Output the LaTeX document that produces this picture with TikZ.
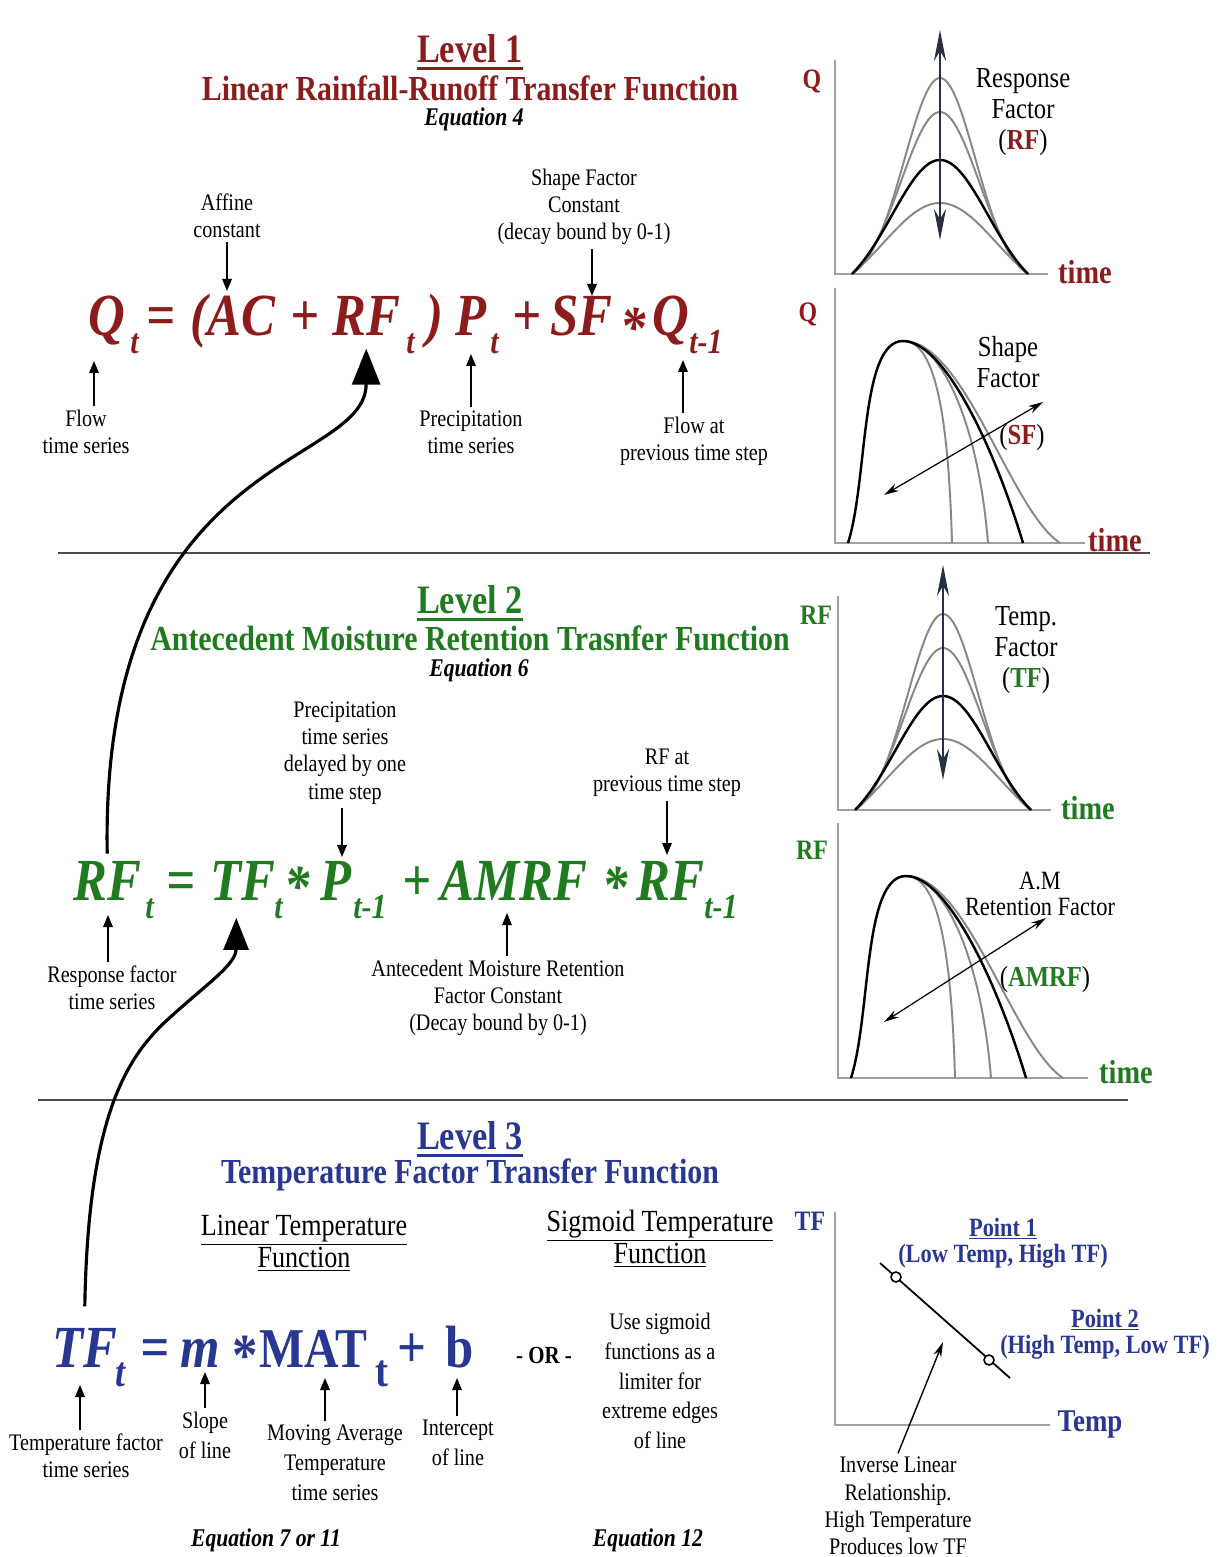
\documentclass[tikz,border=0pt]{standalone}
\usepackage{fontspec}
\setmainfont{Liberation Serif}[FakeStretch=0.85]
\usetikzlibrary{arrows.meta, positioning, calc}
\definecolor{DeepRed}{RGB}{140,28,28}
\definecolor{LeafGreen}{RGB}{32,122,32}
\definecolor{InkBlue}{RGB}{40,55,145}
\definecolor{SlateNavy}{RGB}{38,48,66}
\definecolor{CurveGray}{RGB}{135,135,135}
\definecolor{AxisGray}{RGB}{160,160,160}
\newcommand\lvlul[1]{\setbox0=\hbox{#1}\rlap{\rule[-4.5pt]{\wd0}{1.7pt}}\box0}

\begin{document}
\begin{tikzpicture}[x=0.02cm, y=-0.02cm,
    lvlhead/.style={font=\fontsize{23}{23}\selectfont\bfseries},
    lvltitle/.style={font=\fontsize{20}{20}\selectfont\bfseries},
    lvlno/.style={font=\fontsize{14.5}{14.5}\selectfont\bfseries\itshape},
    eq/.style={anchor=base west, inner sep=0pt, font=\fontsize{34}{34}\selectfont\bfseries\itshape},
    eqrm/.style={anchor=base west, inner sep=0pt, font=\fontsize{34}{34}\selectfont\bfseries},
    eqsub/.style={anchor=base west, inner sep=0pt, font=\fontsize{20}{20}\selectfont\bfseries\itshape},
    lbl/.style={align=center, inner sep=2pt, font=\fontsize{13.5}{15.5}\selectfont},
    lblwide/.style={lbl, font=\fontsize{13.5}{17}\selectfont},
    subhd/.style={align=center, font=\fontsize{17.5}{15}\selectfont},
    plotlbl/.style={align=center, font=\fontsize{16.5}{17.5}\selectfont},
    axlbl/.style={font=\fontsize{16}{16}\selectfont\bfseries},
    timelbl/.style={font=\fontsize{19}{19}\selectfont\bfseries},
    ptlbl/.style={align=center, text=InkBlue, font=\fontsize{15}{15}\selectfont\bfseries},
    ptr/.style={-{Triangle[length=0.24cm, width=0.19cm]}, line width=0.9pt},
    bigflow/.style={-{Triangle[length=0.72cm, width=0.56cm]}, line width=1.8pt},
    plotaxis/.style={AxisGray, line width=0.8pt},
    bell/.style={line width=1.1pt},
    updown/.style={SlateNavy, line width=1.4pt,
        {Stealth[length=0.62cm, width=0.24cm]}-{Stealth[length=0.62cm, width=0.24cm]}},
    twoway/.style={line width=0.7pt,
        {Stealth[length=0.3cm, width=0.16cm]}-{Stealth[length=0.3cm, width=0.16cm]}},
    sepline/.style={black!70, line width=0.6pt},
    ptdot/.style={circle, draw, fill=white, line width=0.9pt, minimum size=0.2cm, inner sep=0pt}
]
\useasboundingbox (0,0) rectangle (1220,1557);
\fill[white] (0,0) rectangle (1220,1557);

% nivel 1
\node[lvlhead, text=DeepRed] (lv1) at (470,52) {\lvlul{Level 1}};
\node[lvltitle, text=DeepRed] (tt1) at (470,88) {Linear Rainfall-Runoff Transfer Function};
\node[lvlno] (eqn4) at (474,119) {Equation 4};

\foreach \x/\t/\n in {88/Q/qa, 146/=/eqa, 190/(AC/ac, 290/+/pla, 332/RF/rf1,
    426/)/par, 455/P/pa, 512/+/plb, 550/SF/sf, 652/Q/qb}
    \node[eq, text=DeepRed] (\n) at (\x,336) {\t};
\foreach \x/\t/\n in {130/t/qas, 406/t/rf1s, 490/t/pas, 689/t-1/qbs}
    \node[eqsub, text=DeepRed] (\n) at (\x,354) {\t};
\node[eq, text=DeepRed] (asta) at (620,348) {*};

\node[lbl] (afflbl) at (227,216) {Affine\\constant};
\node[lbl] (sflbl) at (584,207) {Shape Factor\\Constant\\(decay bound by 0-1)};
\node[lbl] (flowlbl) at (86,432) {Flow\\time series};
\node[lbl] (preclbl) at (471,432) {Precipitation\\time series};
\node[lbl] (prevlbl) at (694,441) {Flow at\\previous time step};
\coordinate (tac) at (227,291);
\coordinate (tsf) at (592,296);
\coordinate (tq) at (94,361);
\coordinate (tp) at (471,354);
\coordinate (tqp) at (683,360);
\draw[ptr] (afflbl.south -| tac) -- (tac);
\draw[ptr] (sflbl.south -| tsf) -- (tsf);
\draw[ptr] (flowlbl.north -| tq) -- (tq);
\draw[ptr] (preclbl.north -| tp) -- (tp);
\draw[ptr] (prevlbl.north -| tqp) -- (tqp);

\draw[sepline] (58,553) -- (1150,553);

% nivel 2
\node[lvlhead, text=LeafGreen] (lv2) at (470,603) {\lvlul{Level 2}};
\node[lvltitle, text=LeafGreen] (tt2) at (470,638) {Antecedent Moisture Retention Trasnfer Function};
\node[lvlno] (eqn6) at (479,670) {Equation 6};

\foreach \x/\t/\n in {73/RF/rf2, 166/=/eqb, 210/TF/tf2, 320/P/pb, 402/+/plc,
    440/AMRF/amrf, 636/RF/rfb}
    \node[eq, text=LeafGreen] (\n) at (\x,900) {\t};
\foreach \x/\t/\n in {145/t/rf2s, 274/t/tf2s, 353/t-1/pbs, 704/t-1/rfbs}
    \node[eqsub, text=LeafGreen] (\n) at (\x,918) {\t};
\node[eq, text=LeafGreen] (astb) at (284,906) {*};
\node[eq, text=LeafGreen] (astc) at (602,906) {*};

\node[lbl] (dellbl) at (345,753) {Precipitation\\time series\\delayed by one\\time step};
\node[lbl] (rfplbl) at (667,773) {RF at\\previous time step};
\node[lbl] (resplbl) at (112,988) {Response factor\\time series};
\node[lbl] (amlbl) at (498,998) {Antecedent Moisture Retention\\Factor Constant\\(Decay bound by 0-1)};
\coordinate (tdel) at (342,857);
\coordinate (trfp) at (667,855);
\coordinate (tresp) at (108,915);
\coordinate (tam) at (507,913);
\draw[ptr] (dellbl.south -| tdel) -- (tdel);
\draw[ptr] (rfplbl.south -| trfp) -- (trfp);
\draw[ptr] (resplbl.north -| tresp) -- (tresp);
\draw[ptr] (amlbl.north -| tam) -- (tam);

\draw[sepline] (38,1100) -- (1128,1100);

% nivel 3
\node[lvlhead, text=InkBlue] (lv3) at (470,1139) {\lvlul{Level 3}};
\node[lvltitle, text=InkBlue] (tt3) at (470,1175) {Temperature Factor Transfer Function};

\node[subhd] (lintl) at (304,1243) {\underline{Linear Temperature}\\\underline{Function}};
\node[subhd] (sigtl) at (660,1239) {\underline{Sigmoid Temperature}\\\underline{Function}};

\node[eq, text=InkBlue] (tf3) at (52,1367) {TF};
\node[eqsub, text=InkBlue, font=\fontsize{24}{24}\selectfont\bfseries\itshape] (tf3s) at (115,1386) {t};
\node[eq, text=InkBlue] (eqc) at (140,1367) {=};
\node[eq, text=InkBlue] (mm) at (180,1367) {m};
\node[eqrm, text=InkBlue] (astd) at (232,1375) {*};
\node[eqrm, text=InkBlue, font=\fontsize{32}{32}\selectfont\bfseries] (mat) at (259,1367) {MAT};
\node[eqsub, text=InkBlue, font=\fontsize{26}{26}\selectfont\bfseries] (mats) at (375,1386) {t};
\node[eqrm, text=InkBlue] (pld) at (397,1367) {+};
\node[eqrm, text=InkBlue] (bb) at (445,1367) {b};
\node[font=\fontsize{14}{14}\selectfont\bfseries] (ornd) at (544,1355) {- OR -};

\node[lbl] (tflbl) at (86,1456) {Temperature factor\\time series};
\node[lblwide] (slopelbl) at (205,1435) {Slope\\of line};
\node[lblwide] (matlbl) at (335,1463) {Moving Average\\Temperature\\time series};
\node[lblwide] (intlbl) at (458,1443) {Intercept\\of line};
\node[lblwide] (siglbl) at (660,1381) {Use sigmoid\\functions as a\\limiter for\\extreme edges\\of line};
\coordinate (ttf) at (80,1385);
\coordinate (tslope) at (205,1372);
\coordinate (tmat) at (325,1378);
\coordinate (tint) at (457,1378);
\draw[ptr] (tflbl.north -| ttf) -- (ttf);
\draw[ptr] (slopelbl.north -| tslope) -- (tslope);
\draw[ptr] (matlbl.north -| tmat) -- (tmat);
\draw[ptr] (intlbl.north -| tint) -- (tint);

\node[lvlno] (eqn7) at (266,1540) {Equation 7 or 11};
\node[lvlno] (eqn12) at (648,1540) {Equation 12};

% flechas curvas
\draw[bigflow] ([yshift=4pt]rf2.north) .. controls (100,450) and (366,470) .. ([yshift=-7pt]rf1.south);
\draw[bigflow, -{Triangle[length=0.64cm, width=0.5cm]}] ([yshift=12pt]tf3.north)
    .. controls (88,1120) and (125,1060) .. (165,1022)
    .. controls (205,985) and (236,965) .. ([xshift=-3.7pt, yshift=-10pt]tf2.south);

% graficos de campana (RF y TF)
\foreach \dx/\dy in {0/0, 3/536}{
  \begin{scope}[shift={(\dx,\dy)}]
    \draw[plotaxis] (835,60) -- (835,274) -- (1048,274);
    \foreach \a/\w/\c/\lw in {196/50/CurveGray/1.1, 162/55/CurveGray/1.1,
        71/80/CurveGray/1.1, 114/68/black/1.4}
      \draw[bell, \c, line width=\lw pt] plot[domain=-88:88, samples=60]
        ({940+\x}, {274-\a*(exp(-((\x)*(\x)/(\w*\w)))-exp(-(7744/(\w*\w))))/(1-exp(-(7744/(\w*\w))))});
  \end{scope}
}
\coordinate (rfup) at (940,30);
\coordinate (rfdn) at (940,240);
\draw[updown] (rfdn) -- (rfup);
\coordinate (tfup) at (943,565);
\coordinate (tfdn) at (943,780);
\draw[updown] (tfdn) -- (tfup);

\node[axlbl, text=DeepRed] (qax1) at (812,81) {Q};
\node[timelbl, text=DeepRed] (time1) at (1085,272) {time};
\node[plotlbl] (rflbl) at (1023,112) {Response\\Factor\\({\bfseries\color{DeepRed}RF})};
\node[axlbl, text=LeafGreen] (rfax1) at (816,615) {RF};
\node[timelbl, text=LeafGreen] (time3) at (1088,808) {time};
\node[plotlbl] (tflbl2) at (1026,650) {Temp.\\Factor\\({\bfseries\color{LeafGreen}TF})};

% hidrogramas (SF y AMRF)
\foreach \dx/\dy in {0/0, 3/535}{
  \begin{scope}[shift={(\dx,\dy)}]
    \draw[plotaxis] (835,288) -- (835,543) -- (1085,543);
    \foreach \ax/\bx/\by/\ex in {932/948/400/952, 940/978/420/988, 965/1010/510/1060}
      \draw[bell, CurveGray] (903,341) .. controls (\ax,341) and (\bx,\by) .. (\ex,543);
    \draw[bell, black, line width=1.4pt] (848,543) .. controls (868,480) and (860,341) .. (903,341)
        .. controls (945,341) and (995,450) .. (1023,543);
  \end{scope}
}
\coordinate (sflo) at (884,495);
\coordinate (sfhi) at (1043,402);
\draw[twoway] (sflo) -- (sfhi);
\coordinate (amlo) at (884,1022);
\coordinate (amhi) at (1046,918);
\draw[twoway] (amlo) -- (amhi);

\node[axlbl, text=DeepRed] (qax2) at (808,314) {Q};
\node[timelbl, text=DeepRed] (time2) at (1115,540) {time};
\node[plotlbl] (shplbl) at (1008,362) {Shape\\Factor};
\node[plotlbl] (sfpar) at (1022,438) {({\bfseries\color{DeepRed}SF})};
\node[axlbl, text=LeafGreen] (rfax2) at (812,850) {RF};
\node[timelbl, text=LeafGreen] (time4) at (1126,1072) {time};
\node[plotlbl, font=\fontsize{15}{15}\selectfont] (amrlbl) at (1040,894) {A.M\\Retention Factor};
\node[plotlbl] (ampar) at (1045,980) {({\bfseries\color{LeafGreen}AMRF})};

% grafico TF - Temp
\draw[plotaxis] (835,1212) -- (835,1425) -- (1050,1425);
\coordinate (lna) at (880,1263);
\coordinate (lnb) at (1010,1378);
\draw[line width=1pt] (lna) -- (lnb);
\node[ptdot] (pt1) at (896,1277) {};
\node[ptdot] (pt2) at (989,1360) {};
\node[ptlbl] (pt1lbl) at (1003,1243) {\underline{Point 1}\\(Low Temp, High TF)};
\node[ptlbl] (pt2lbl) at (1105,1334) {\underline{Point 2}\\(High Temp, Low TF)};
\node[axlbl, text=InkBlue] (tfax) at (810,1221) {TF};
\node[axlbl, text=InkBlue, font=\fontsize{18}{18}\selectfont\bfseries] (tempax) at (1090,1424) {Temp};
\node[lbl] (invlbl) at (898,1506) {Inverse Linear\\Relationship.\\High Temperature\\Produces low TF};
\coordinate (invtip) at (943,1342);
\draw[line width=0.8pt, -{Stealth[length=0.3cm, width=0.16cm]}] (invlbl.north) -- (invtip);

\end{tikzpicture}
\end{document}
